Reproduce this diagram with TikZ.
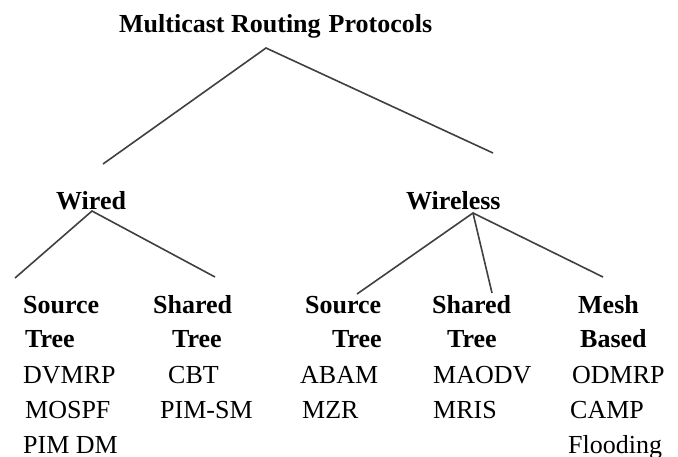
\documentclass[tikz,border=0pt]{standalone}
\usepackage{fontspec}
\setmainfont{Liberation Serif}
\begin{document}
\begin{tikzpicture}[x=1pt,y=-1pt,
  lbl/.style={anchor=base west,inner sep=0pt,font=\fontsize{26}{30}\selectfont},
  hd/.style={lbl,font=\fontsize{26}{30}\selectfont\bfseries},
  edge/.style={draw=black!75,line width=1.6pt}]
\useasboundingbox[fill=white] (0,0) rectangle (678,456);
% title and level-1
\node[hd] (title) at (119,32) {Multicast Routing\hspace{8pt}Protocols};
\node[hd] (wired) at (56,209) {Wired};
\node[hd] (wireless) at (406,209) {Wireless};
% wired columns
\node[hd] (ws1) at (23,313) {Source};
\node[hd] (ws2) at (25,347) {Tree};
\node[lbl] (dvmrp) at (23,383) {DVMRP};
\node[lbl] (mospf) at (25,418) {MOSPF};
\node[lbl] (pimdm) at (23,453) {PIM DM};
\node[hd] (wh1) at (153,313) {Shared};
\node[hd] (wh2) at (172,347) {Tree};
\node[lbl] (cbt) at (168,383) {CBT};
\node[lbl] (pimsm) at (160,418) {PIM-SM};
% wireless columns
\node[hd] (rs1) at (305,313) {Source};
\node[hd] (rs2) at (332,347) {Tree};
\node[lbl] (abam) at (300,383) {ABAM};
\node[lbl] (mzr) at (302,418) {MZR};
\node[hd] (rh1) at (432,313) {Shared};
\node[hd] (rh2) at (447,347) {Tree};
\node[lbl] (maodv) at (433,383) {MAODV};
\node[lbl] (mris) at (433,418) {MRIS};
\node[hd] (rm1) at (578,313) {Mesh};
\node[hd] (rm2) at (580,347) {Based};
\node[lbl] (odmrp) at (572,383) {ODMRP};
\node[lbl] (camp) at (570,418) {CAMP};
\node[lbl] (flood) at (568,453) {Flooding};
% connector ends
\coordinate (rootapex) at (266,48);
\coordinate (toWired) at (103,164);
\coordinate (toWireless) at (493,153);
\coordinate (wiredapex) at (92,211);
\coordinate (toWS) at (15,278);
\coordinate (toWH) at (215,277);
\coordinate (wlapex) at (473,213);
\coordinate (toRS) at (357,294);
\coordinate (toRH) at (492,293);
\coordinate (toRM) at (603,277);
\draw[edge] (toWired) -- (rootapex) -- (toWireless);
\draw[edge] (toWS) -- (wiredapex) -- (toWH);
\draw[edge] (toRS) -- (wlapex) -- (toRM);
\draw[edge] (wlapex) -- (toRH);
\end{tikzpicture}
\end{document}
